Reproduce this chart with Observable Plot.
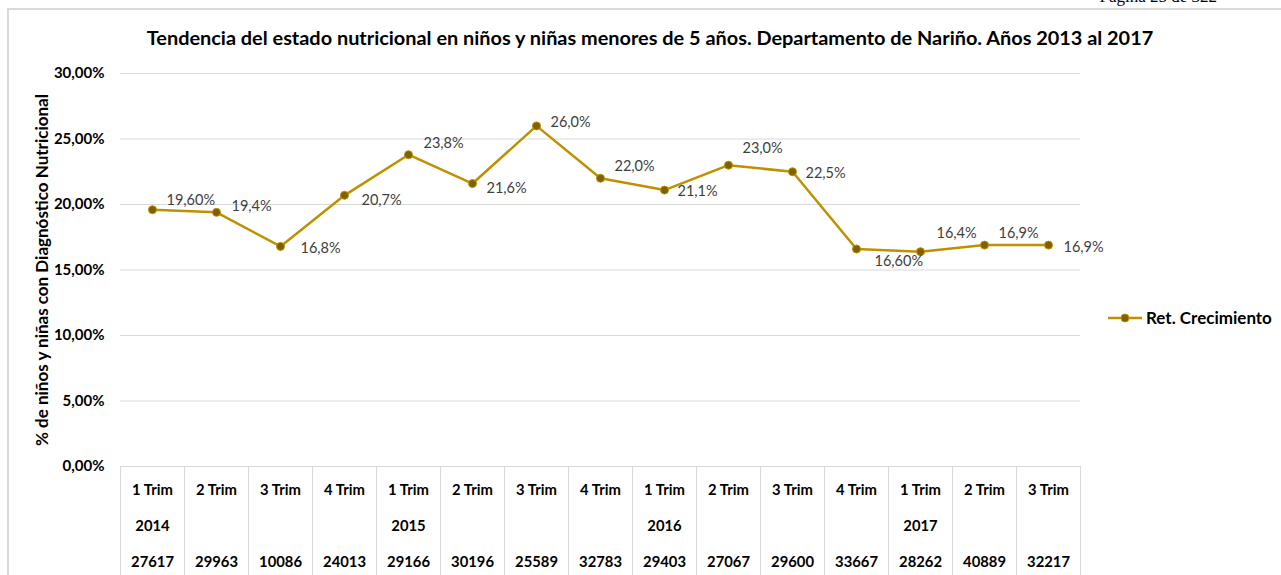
<!DOCTYPE html>
<html>
<head>
<meta charset="utf-8">
<script src="https://cdn.jsdelivr.net/npm/d3@7"></script>
<script src="https://cdn.jsdelivr.net/npm/@observablehq/plot@0.6"></script>
<style>
  html, body { margin: 0; padding: 0; background: #fff; }
  body { width: 1281px; height: 575px; position: relative; overflow: hidden; font-family: Lato, "Open Sans", sans-serif; }
  #frame { position: absolute; left: 7px; top: 8px; width: 1300px; height: 600px; border-left: 2px solid #d9d9d9; border-top: 2px solid #d9d9d9; }
  #page { position: absolute; right: 64px; top: -13px; font-family: "Liberation Serif", serif; font-size: 17px; color: #000; }
  #title { position: absolute; left: 0; width: 1300px; top: 25px; text-align: center; font-weight: bold; font-size: 19.9px; color: #000; white-space: nowrap; }
  #chart { position: absolute; left: 0; top: 0; }
  #legend { position: absolute; left: 1106px; top: 307px; display: flex; align-items: center; font-weight: bold; font-size: 17px; color: #000; white-space: nowrap; }
  #legend svg { margin-right: 2px; }
</style>
</head>
<body>
<div id="frame"></div>
<div id="page">Página 25 de 322</div>
<div id="chart"></div>
<div id="title">Tendencia del estado nutricional en niños y niñas menores de 5 años. Departamento de Nariño. Años 2013 al 2017</div>
<div id="legend"><svg width="38" height="20"><line x1="2" x2="36" y1="10" y2="10" stroke="#BF9000" stroke-width="2.5"/><circle cx="19" cy="10" r="4" fill="#7F6000" stroke="#BF9000" stroke-width="1"/></svg><span id="legendText"></span></div>
<script>
// ---- data ----
const categories = ["1 Trim","2 Trim","3 Trim","4 Trim","1 Trim","2 Trim","3 Trim","4 Trim","1 Trim","2 Trim","3 Trim","4 Trim","1 Trim","2 Trim","3 Trim"];
const years = ["2014","","","","2015","","","","2016","","","","2017","",""];
const counts = [27617,29963,10086,24013,29166,30196,25589,32783,29403,27067,29600,33667,28262,40889,32217];
const values = [19.6,19.4,16.8,20.7,23.8,21.6,26.0,22.0,21.1,23.0,22.5,16.6,16.4,16.9,16.9];
const valueLabels = ["19,60%","19,4%","16,8%","20,7%","23,8%","21,6%","26,0%","22,0%","21,1%","23,0%","22,5%","16,60%","16,4%","16,9%","16,9%"];
const yTicks = [0,5,10,15,20,25,30];
const yTickLabels = ["0,00%","5,00%","10,00%","15,00%","20,00%","25,00%","30,00%"];
const seriesName = "Ret. Crecimiento";
const yLabel = "% de niños y niñas con Diagnóstico Nutricional";

// label placement (layout, not data): [dx, dy] from each point
const labelPlacement = [[14,-9],[15,-6],[20,2],[17,5],[15,-11],[14,5],[14,-4],[14,-12],[13,1],[14,-17],[13,2],[18,12],[16,-18],[14,-12],[15,2]];

const idx = d3.range(values.length);
const lineColor = "#BF9000";
const dotColor = "#7F6000";

const labelMarks = idx.map(i => Plot.text([i], {
  x: d => d, y: d => values[d], text: d => valueLabels[d],
  dx: labelPlacement[i][0], dy: labelPlacement[i][1],
  textAnchor: "start", lineAnchor: "middle", fill: "#404040", fontSize: 14.5
}));

const chart = Plot.plot({
  width: 1281, height: 575,
  marginTop: 73, marginBottom: 109, marginLeft: 120, marginRight: 201,
  style: { fontFamily: "Lato, 'Open Sans', sans-serif", background: "transparent" },
  x: { domain: [-0.5, values.length - 0.5], axis: null },
  y: { domain: [0, 30], axis: null },
  marks: [
    Plot.gridY(yTicks.filter(t => t > 0), { stroke: "#d9d9d9", strokeOpacity: 1 }),
    Plot.ruleY([0], { stroke: "#d9d9d9" }),
    Plot.axisY(yTicks, { tickSize: 0, tickPadding: 16, tickFormat: d => yTickLabels[yTicks.indexOf(d)], fontWeight: "bold", fontSize: 15, fill: "#000", label: null }),
    Plot.text([yLabel], { frameAnchor: "left", rotate: -90, dx: -78, textAnchor: "middle", lineAnchor: "middle", fontWeight: "bold", fontSize: 17, fill: "#000" }),
    // table below the plot
    Plot.ruleX(d3.range(values.length + 1), { x: d => d - 0.5, y1: 0, y2: 0, insetBottom: -109, stroke: "#d9d9d9" }),
    Plot.text(idx, { x: d => d, y: 0, text: d => categories[d], dy: 24, fontWeight: "bold", fontSize: 14.8, fill: "#000" }),
    Plot.text(idx, { x: d => d, y: 0, text: d => years[d], dy: 60, fontWeight: "bold", fontSize: 14.8, fill: "#000" }),
    Plot.text(idx, { x: d => d, y: 0, text: d => String(counts[d]), dy: 96, fontWeight: "bold", fontSize: 14.8, fill: "#000" }),
    // series
    Plot.line(idx, { x: d => d, y: d => values[d], stroke: lineColor, strokeWidth: 2.5 }),
    Plot.dot(idx, { x: d => d, y: d => values[d], r: 4, fill: dotColor, stroke: lineColor, strokeWidth: 1 }),
    ...labelMarks
  ]
});
document.getElementById("chart").appendChild(chart);
document.getElementById("legendText").textContent = seriesName;
</script>
</body>
</html>
